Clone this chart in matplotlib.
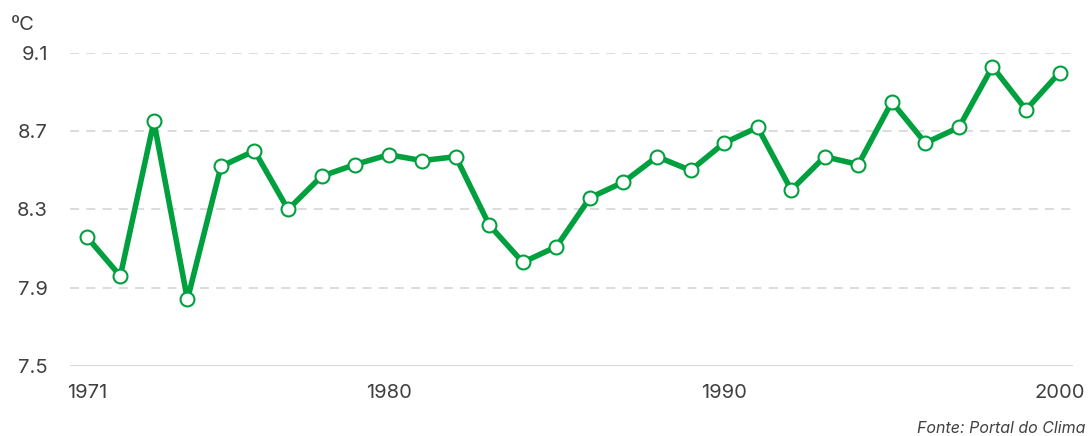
import numpy as np
import matplotlib.pyplot as plt

plt.rcParams['font.family'] = ['Inter', 'DejaVu Sans']

# annual mean temperature (ºC)
years = list(range(1971, 2001))
temps = [8.16, 7.96, 8.75, 7.84, 8.52, 8.60, 8.30, 8.47, 8.53, 8.58,
         8.55, 8.57, 8.22, 8.03, 8.11, 8.36, 8.44, 8.57, 8.50, 8.64,
         8.72, 8.40, 8.57, 8.53, 8.85, 8.64, 8.72, 9.03, 8.81, 9.00]
y_ticks = [7.5, 7.9, 8.3, 8.7, 9.1]
x_ticks = [1971, 1980, 1990, 2000]

green = '#00A03E'
grey_text = '#404040'

fig = plt.figure(figsize=(10.89, 4.36), dpi=100)
ax = fig.add_axes([70 / 1089, 1 - 366 / 436, 1003 / 1089, 313 / 436])

# gridlines (dashed), solid baseline at the bottom
for t in y_ticks[1:]:
    ax.axhline(t, color='#d9d9d9', lw=1.3, ls=(0, (5, 4)), zorder=0)
ax.axhline(y_ticks[0], color='#d9d9d9', lw=1.5, zorder=0)

ax.plot(years, temps, color=green, lw=4, marker='o', markersize=10,
        markerfacecolor='white', markeredgecolor=green, markeredgewidth=1.5,
        clip_on=False, zorder=3)

ax.set_xlim(1970.5, 2000.4)
ax.set_ylim(7.5, 9.1)
ax.set_yticks(y_ticks)
ax.set_yticklabels([f'{t:.1f}' for t in y_ticks])
ax.set_xticks(x_ticks)

ax.tick_params(axis='y', length=0, pad=16, labelsize=14.5, labelcolor=grey_text)
ax.tick_params(axis='x', length=0, pad=13, labelsize=14.5, labelcolor=grey_text)

for side in ['top', 'right', 'left', 'bottom']:
    ax.spines[side].set_visible(False)

fig.text(11 / 1089, 1 - 25 / 436, 'ºC', fontsize=14.5, color=grey_text,
         ha='left', va='center')
fig.text(1085 / 1089, 1 - 428 / 436, 'Fonte: Portal do Clima', fontsize=11.5,
         style='italic', color=grey_text, ha='right', va='center')

fig.savefig('out.png', dpi=100)
